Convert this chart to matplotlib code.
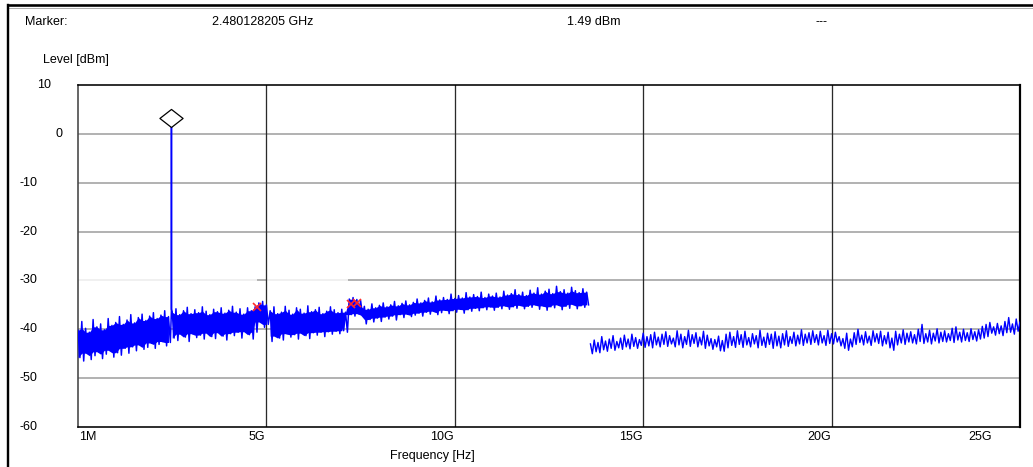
import numpy as np
import matplotlib
matplotlib.use("Agg")
import matplotlib.pyplot as plt
from matplotlib.path import Path
from matplotlib.lines import Line2D

plt.rcParams['font.family'] = ['Liberation Sans', 'DejaVu Sans']

# ---------------- data (GHz, dBm) ----------------
marker_freq = 2.480128205
marker_level = 1.49

seg1_start = 0.001
seg1_hi = [-40.2, -38.4, -39.8, -40.6, -38.0, -39.5, -38.9, -40.1, -37.8, -39.2, -38.6, -37.4, -39.0,
           -38.1, -37.0, -38.7, -37.6, -36.9, -38.2, -37.3, -36.6, -37.8, -37.1, -36.2, -37.4]
seg1_lo = [-45.8, -46.5, -44.9, -46.2, -45.4, -44.6, -46.0, -45.1, -44.3, -45.7, -44.8, -45.3, -43.9,
           -44.9, -43.6, -44.4, -43.2, -44.1, -43.7, -42.8, -43.9, -43.1, -42.5, -43.4, -42.7]

seg2_start = 2.5
seg2_hi = [-36.5, -35.8, -37.0, -36.2, -35.5, -36.8, -36.0, -36.6, -35.4, -36.3, -37.0, -35.9, -36.4,
           -35.6, -36.7, -36.1, -35.3, -36.5, -35.8, -36.9, -35.6, -36.2, -35.4,
           -34.6, -34.3, -35.0]
seg2_lo = [-41.8, -42.3, -41.0, -41.6, -42.5, -40.9, -41.7, -41.2, -42.0, -40.8, -41.5, -41.9, -40.7,
           -41.4, -42.2, -40.9, -41.3, -40.6, -41.8, -40.5, -41.1, -42.0, -40.6,
           -38.5, -39.6, -39.0]

seg3_start = 5.1
seg3_hi = [-36.2, -35.4, -36.8, -36.5, -35.3, -36.1, -36.9, -35.6, -35.9, -36.7, -35.2, -36.4, -36.0,
           -35.5, -36.8, -36.3, -35.4, -36.0, -36.6, -35.9, -36.5,
           -33.8, -33.5, -33.9, -34.1,
           -35.3, -35.9, -34.8, -35.6, -35.1, -34.6, -35.4, -35.0, -34.3, -35.2,
           -34.7, -34.2, -35.0, -34.5, -33.8, -34.6, -34.1, -33.6, -34.4, -33.2,
           -34.0, -33.5, -33.9, -32.8, -33.7, -33.1, -33.6, -32.5, -33.4, -32.9,
           -33.3, -32.4, -33.5, -32.8, -33.2, -32.6, -33.4, -32.2, -33.0, -32.7,
           -31.9, -32.9, -32.4, -33.1, -32.0, -32.6, -31.5, -32.8, -32.2, -31.8,
           -32.7, -31.2, -32.3, -31.9, -32.6, -31.4, -32.1, -32.5, -31.7, -32.4]
seg3_lo = [-42.5, -41.4, -41.8, -42.2, -40.9, -41.6, -41.1, -42.0, -40.8, -41.3, -41.9, -40.7, -41.2,
           -40.6, -41.5, -40.5, -41.0, -40.4, -40.9, -40.3, -40.6,
           -37.0, -37.3, -36.8, -37.1,
           -38.9, -38.0, -38.5, -37.7, -38.4, -37.5, -37.9, -37.3, -38.1, -37.0,
           -37.6, -36.9, -37.4, -37.1, -36.7, -37.3, -36.5, -36.9, -36.3, -37.0,
           -36.6, -36.1, -36.8, -36.2, -36.5, -35.9, -36.7, -36.0, -36.3, -35.7,
           -36.2, -35.6, -36.0, -35.4, -36.1, -35.5, -35.8, -35.2, -35.9, -35.4,
           -35.7, -35.1, -35.8, -35.3, -35.5, -35.0, -35.9, -35.2, -36.1, -35.4,
           -35.6, -35.0, -36.0, -35.3, -35.7, -34.9, -35.8, -35.2, -35.5, -35.0]

seg4_start = 13.6
seg4_hi = [-43.0, -42.2, -42.7, -41.5, -42.4, -42.0, -41.3, -42.5, -41.8, -41.2,
           -42.0, -41.0, -41.7, -42.1, -40.8, -41.5, -41.1, -40.6, -41.6, -41.0,
           -40.5, -41.3, -41.8, -40.3, -41.0, -41.5, -40.2, -41.1, -40.7, -41.6,
           -40.4, -41.2, -41.9, -42.1, -41.4, -42.3, -41.0, -40.6, -41.5, -40.3,
           -41.1, -40.4, -41.7, -40.9, -41.3, -40.2, -41.6, -40.8, -41.0, -40.5,
           -41.4, -40.9, -40.3, -41.5, -40.6, -41.2, -40.1, -41.0, -40.7, -40.3,
           -41.1, -40.4, -41.3, -40.2, -40.9, -40.6, -41.5, -41.9, -40.8, -42.0,
           -40.7, -40.0, -41.2, -40.5, -41.4, -40.3, -40.9, -40.4, -41.3, -40.6,
           -41.8, -40.4, -41.0, -40.1, -40.8, -40.5, -41.1, -40.0, -39.0, -40.9,
           -40.2, -40.8, -39.9, -40.6, -40.3, -40.9, -39.8, -39.5, -40.6, -40.0,
           -40.7, -39.9, -40.5, -40.1, -39.4, -39.0, -38.6, -39.5, -38.8, -39.3,
           -38.4, -37.6, -38.9, -37.9, -38.5]
seg4_lo = [-45.0, -44.6, -44.8, -44.2, -44.5, -43.9, -44.3, -43.8, -44.1, -43.6,
           -44.0, -43.5, -43.9, -43.3, -43.7, -43.4, -43.8, -43.2, -43.6, -43.1,
           -43.5, -43.0, -43.6, -43.2, -43.8, -43.1, -43.5, -42.9, -43.6, -43.2,
           -43.9, -43.4, -44.1, -43.6, -44.4, -44.5, -43.8, -43.3, -43.7, -43.1,
           -43.7, -43.2, -43.6, -43.0, -43.8, -43.3, -43.7, -43.1, -43.9, -43.4,
           -43.8, -43.2, -43.5, -42.9, -43.4, -43.0, -43.3, -42.8, -43.1, -42.7,
           -43.2, -42.8, -43.3, -42.9, -43.0, -42.6, -43.4, -43.9, -44.3, -43.6,
           -43.1, -42.7, -43.2, -42.8, -43.3, -42.6, -42.9, -43.4, -43.0, -43.8,
           -44.3, -43.2, -42.8, -43.1, -42.6, -42.8, -43.0, -42.5, -42.9, -42.6,
           -43.0, -42.4, -42.8, -42.5, -42.6, -42.3, -42.7, -42.2, -42.6, -42.3,
           -42.5, -42.1, -42.4, -42.0, -41.8, -41.5, -40.8, -41.2, -40.9, -41.3,
           -40.7, -40.6, -41.0, -40.4, -40.2]

spur_freqs = [4.74, 7.24, 7.40]
spur_levels = [-35.4, -34.9, -34.6]

x_tick_vals = [0, 5, 10, 15, 20, 25]
x_tick_labels = ['1M', '5G', '10G', '15G', '20G', '25G']
y_tick_vals = [10, 0, -10, -20, -30, -40, -50, -60]
y_tick_labels = ['10', '0', '-10', '-20', '-30', '-40', '-50', '-60']

header = ['Marker:', '2.480128205 GHz', '1.49 dBm', '---']
header_x = [25, 212, 567, 815]

STEP = 0.1
BLUE = '#0000ff'


def zigzag(start, hi, lo):
    f = start + STEP * np.arange(len(hi))
    xs = np.empty(2 * len(hi))
    ys = np.empty(2 * len(hi))
    xs[0::2] = f
    xs[1::2] = f + STEP / 2
    ys[0::2] = hi
    ys[1::2] = lo
    return xs, ys


def core(start, hi, lo):
    """solid core of the trace: between neighbouring extremes"""
    hi = np.asarray(hi)
    lo = np.asarray(lo)
    hp = np.append(hi, hi[-1])
    lp = np.append(lo, lo[-1])
    ch = np.minimum(hp[:-1], hp[1:])
    cl = np.maximum(lp[:-1], lp[1:])
    f = start + STEP * np.arange(len(hi))
    return f, ch, cl


W, H = 1033, 467
fig = plt.figure(figsize=(W / 100, H / 100), dpi=100)
ax = fig.add_axes([78 / W, (H - 427) / H, (1020 - 78) / W, (427 - 85) / H])
ax.set_xlim(0, 25)
ax.set_ylim(-60, 10)

px = 0.72  # points per pixel
# grid
for yv in y_tick_vals[1:-1]:
    if yv == -30:
        continue
    ax.axhline(yv, color='#9a9a9a', lw=1.5 * px, zorder=1)
ax.hlines(-30, 0, 4.75, color='#ececec', lw=1.5 * px, zorder=1)
ax.hlines(-30, 4.75, 5.02, color='#9a9a9a', lw=1.5 * px, zorder=1)
ax.hlines(-30, 5.02, 7.17, color='#ececec', lw=1.5 * px, zorder=1)
ax.hlines(-30, 7.17, 25, color='#9a9a9a', lw=1.5 * px, zorder=1)
for xv in x_tick_vals[1:-1]:
    ax.axvline(xv, color='#2a2a2a', lw=1.3 * px, zorder=1)

# trace
x1, y1 = zigzag(seg1_start, seg1_hi, seg1_lo)
x2, y2 = zigzag(seg2_start, seg2_hi, seg2_lo)
x3, y3 = zigzag(seg3_start, seg3_hi, seg3_lo)
x4, y4 = zigzag(seg4_start, seg4_hi, seg4_lo)
xa = np.concatenate([x1, [marker_freq, marker_freq, marker_freq], x2, x3])
ya = np.concatenate([y1, [seg1_hi[-1] + 1.5, marker_level, seg1_hi[-1] + 1.5], y2, y3])
lw_trace = 1.5 * px
ax.plot(xa, ya, color=BLUE, lw=lw_trace, zorder=3)
ax.plot(x4, y4, color=BLUE, lw=1.4 * px, zorder=3)

# solid cores for the dense low-band segments
for st, hi, lo in [(seg1_start, seg1_hi, seg1_lo), (seg2_start, seg2_hi, seg2_lo),
                   (seg3_start, seg3_hi, seg3_lo)]:
    f, ch, cl = core(st, hi, lo)
    ok = ch > cl
    ax.fill_between(f, ch, cl, where=ok, color=BLUE, lw=0, zorder=3, interpolate=True)

# spurs
ax.plot(spur_freqs, spur_levels, ls='none', marker='x', color='#ff2a2a', ms=5.5, mew=1.2, zorder=6)

# marker diamond (bottom tip at the marker level)
diamond = Path([(0, 0), (1, 0.78), (0, 1.56), (-1, 0.78), (0, 0)],
               [Path.MOVETO, Path.LINETO, Path.LINETO, Path.LINETO, Path.CLOSEPOLY])
ax.plot([marker_freq], [marker_level], ls='none', marker=diamond, ms=26, mfc='white',
        mec='black', mew=0.9, zorder=5)

# spines
for s in ax.spines.values():
    s.set_linewidth(1.6 * px)
    s.set_color('black')
ax.spines['left'].set_color('#444444')
ax.spines['right'].set_linewidth(2.2 * px)

ax.set_xticks(x_tick_vals)
ax.set_yticks(y_tick_vals)
ax.set_xticklabels([])
ax.set_yticklabels([])
ax.tick_params(length=0)

fs = 9
# y tick labels at measured pixel positions
ylab_left = {'10': 37, '0': 55}
for v, lab in zip(y_tick_vals, y_tick_labels):
    xl = ylab_left.get(lab, 19)
    ypix = ax.transData.transform((0, v))[1]
    fig.text(xl / W, ypix / H, lab, ha='left', va='center', fontsize=fs)

# x tick labels: right aligned to gridline, first left aligned
xlab_right_shift = {'25G': 28}
for v, lab in zip(x_tick_vals, x_tick_labels):
    xpix = ax.transData.transform((v, 0))[0]
    if lab == '1M':
        fig.text((xpix + 1) / W, 1 - 437 / H, lab, ha='left', va='center', fontsize=fs)
    else:
        shift = xlab_right_shift.get(lab, 1)
        fig.text((xpix - shift) / W, 1 - 437 / H, lab, ha='right', va='center', fontsize=fs)

fig.text(432 / W, 1 - 456 / H, 'Frequency [Hz]', ha='center', va='center', fontsize=fs)
fig.text(43 / W, 1 - 60 / H, 'Level [dBm]', ha='left', va='center', fontsize=fs)
for t, xh in zip(header, header_x):
    fig.text(xh / W, 1 - 22 / H, t, ha='left', va='center', fontsize=fs)

# outer frame
fig.add_artist(Line2D([8 / W, 1], [1 - 5 / H, 1 - 5 / H], color='black', lw=2.6 * px))
fig.add_artist(Line2D([8 / W, 1], [1 - 7.5 / H, 1 - 7.5 / H], color='#b0b0b0', lw=1.0 * px))
fig.add_artist(Line2D([8 / W, 8 / W], [0, 1 - 5 / H], color='black', lw=2.4 * px))

fig.savefig('out.png', dpi=100)
